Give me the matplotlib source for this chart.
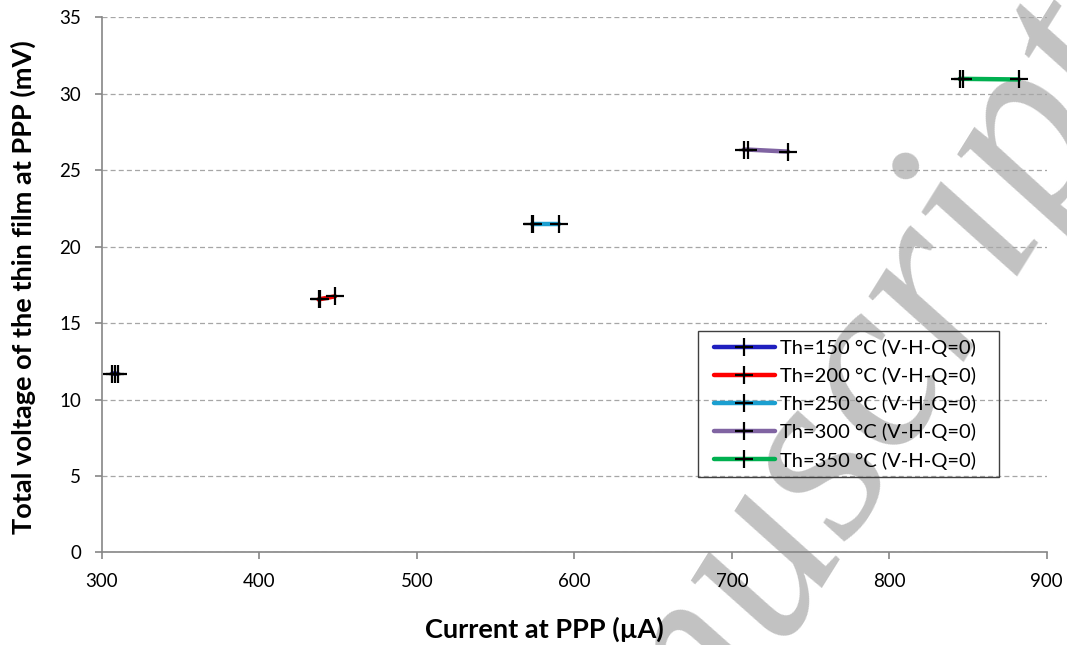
import matplotlib
matplotlib.use("Agg")
import matplotlib.pyplot as plt
from matplotlib.lines import Line2D
from matplotlib.patches import Rectangle

# Data
labels = ["Th=150 °C (V-H-Q=0)", "Th=200 °C (V-H-Q=0)", "Th=250 °C (V-H-Q=0)",
          "Th=300 °C (V-H-Q=0)", "Th=350 °C (V-H-Q=0)"]
colors = ["#1f1fbf", "#ff0000", "#1b9fd0", "#8064a2", "#00b050"]
current_150 = [306.5, 308.0, 310.0]
voltage_150 = [11.70, 11.70, 11.68]
current_200 = [437.5, 438.5, 448.0]
voltage_200 = [16.55, 16.57, 16.75]
current_250 = [573.0, 574.0, 590.5]
voltage_250 = [21.47, 21.47, 21.47]
current_300 = [707.5, 710.5, 735.8]
voltage_300 = [26.35, 26.35, 26.22]
current_350 = [844.7, 847.0, 882.4]
voltage_350 = [30.98, 30.98, 30.94]
xs = [current_150, current_200, current_250, current_300, current_350]
ys = [voltage_150, voltage_200, voltage_250, voltage_300, voltage_350]
x_ticks = [300, 400, 500, 600, 700, 800, 900]
y_ticks = [0, 5, 10, 15, 20, 25, 30, 35]

plt.rcParams['font.family'] = ['Lato', 'DejaVu Sans']

fig = plt.figure(figsize=(10.67, 6.45), dpi=100)
ax = fig.add_axes([0.0956, 0.1436, 0.981 - 0.0956, 0.973 - 0.1436])
ax.set_facecolor('none')

# watermark
fig.text(0.745, 0.19, "Manuscript", rotation=58, fontsize=180, color="#c2c2c2",
         family="Liberation Serif", style="italic", ha="center", va="center",
         zorder=-5, rotation_mode="anchor")

for x, y, c in zip(xs, ys, colors):
    ax.plot(x, y, color=c, lw=3.2, solid_capstyle='round', zorder=3)
    ax.plot(x, y, ls='none', marker='+', ms=13, mew=1.6, color='black', zorder=4)

ax.set_xlim(300, 900)
ax.set_ylim(0, 35)
ax.set_xticks(x_ticks)
ax.set_yticks(y_ticks)
ax.grid(axis='y', color='#a6a6a6', ls=(0, (4, 2.5)), lw=0.9)
ax.set_axisbelow(True)
for s in ['top', 'right']:
    ax.spines[s].set_visible(False)
for s in ['left', 'bottom']:
    ax.spines[s].set_color('#868686')
    ax.spines[s].set_linewidth(1.2)
ax.tick_params(axis='both', direction='out', color='#868686', length=5, width=1.2,
               labelsize=13.5)
ax.tick_params(axis='x', pad=10)
ax.tick_params(axis='y', pad=10)
ax.set_xlabel("Current at PPP (µA)", fontsize=19.5, fontweight='bold')
ax.xaxis.label.set_va('center')
ax.xaxis.set_label_coords(0.468, -0.143)
ax.set_ylabel("Total voltage of the thin film at PPP (mV)", fontsize=19.5,
              fontweight='bold')
ax.yaxis.label.set_va('center')
ax.yaxis.set_label_coords(-0.0836, 0.496)

# legend frame
ax.add_patch(Rectangle((0.631, 0.1409), 0.9496 - 0.631, 0.4138 - 0.1409,
                       transform=ax.transAxes, fill=False, edgecolor='#404040',
                       lw=1.0, zorder=5, clip_on=False))
handles = [Line2D([0], [0], color=c, lw=3.2, marker='+', ms=13, mew=1.6,
                  mec='black', solid_capstyle='round') for c in colors]
leg = ax.legend(handles, labels, loc='upper left', bbox_to_anchor=(0.648, 0.399),
                fontsize=14.5, frameon=False, handlelength=3.0,
                handletextpad=0.25, labelspacing=0.5, borderpad=0,
                borderaxespad=0)

fig.savefig("out.png", dpi=100)
